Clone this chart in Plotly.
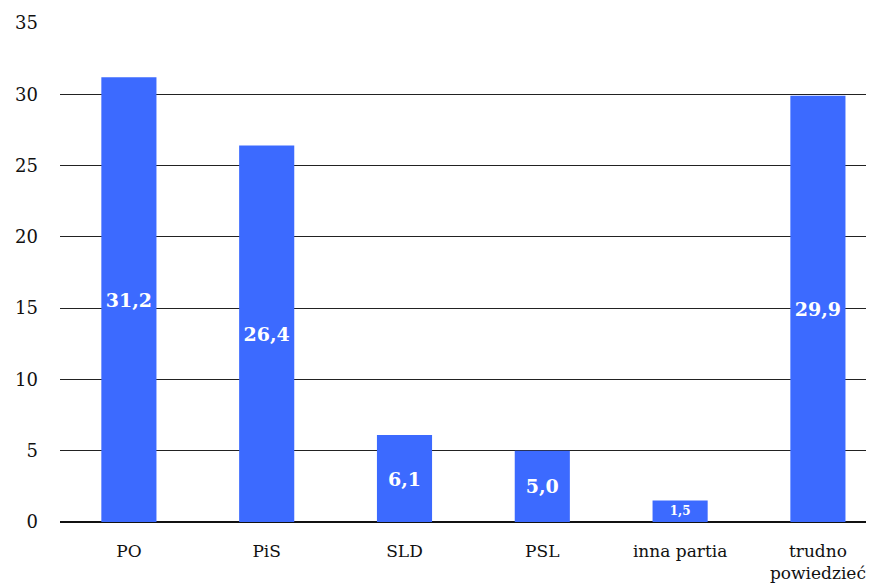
import plotly.graph_objects as go

categories = ["PO", "PiS", "SLD", "PSL", "inna partia", "trudno<br>powiedzieć"]
values = [31.2, 26.4, 6.1, 5.0, 1.5, 29.9]
labels = ["31,2", "26,4", "6,1", "5,0", "1,5", "29,9"]
label_sizes = [19, 19, 19, 19, 12, 19]
y_ticks = [0, 5, 10, 15, 20, 25, 30, 35]

fig = go.Figure(go.Bar(
    x=categories, y=values, text=labels,
    textposition="inside", insidetextanchor="middle",
    textfont=dict(color="white", size=label_sizes, family="DejaVu Serif"),
    texttemplate="<b>%{text}</b>",
    marker=dict(color="#3C6AFF", line=dict(width=0)),
    width=0.4, cliponaxis=False,
))
fig.update_layout(
    width=858, height=580,
    margin=dict(l=52, r=0, t=15, b=66),
    paper_bgcolor="white", plot_bgcolor="white",
    font=dict(family="DejaVu Serif", size=18, color="#111111"),
    showlegend=False, uniformtext=dict(mode=False),
    xaxis=dict(range=[-0.5, 5.349], showgrid=False, showline=False, ticks="",
               automargin=False, ticklabelstandoff=17,
               tickfont=dict(size=17)),
    yaxis=dict(range=[0, 35], tickvals=y_ticks, showgrid=True, gridcolor="#222222",
               gridwidth=1, zeroline=True, zerolinecolor="#111111", zerolinewidth=1.5,
               showline=False, ticks="", ticklabelstandoff=21, automargin=False,
               tickfont=dict(size=18)),
)
fig.write_html("out.html")
